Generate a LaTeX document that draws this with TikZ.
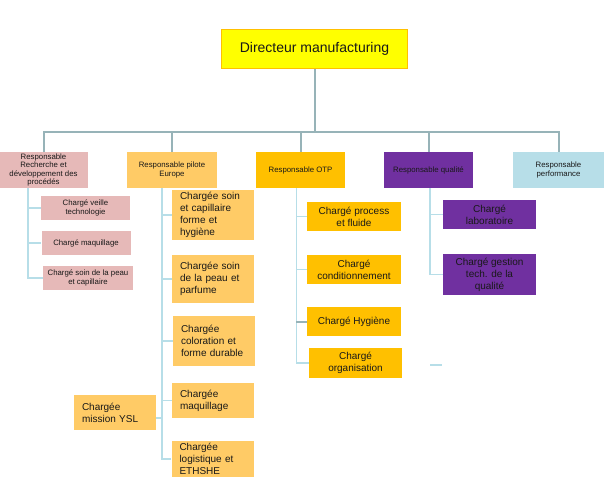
\documentclass[tikz,border=0pt]{standalone}
\usepackage{fontspec}
\setmainfont{Liberation Sans}
\definecolor{dirfill}{HTML}{FFFF00}
\definecolor{dirline}{HTML}{FFC000}
\definecolor{rdfill}{HTML}{E6B9B8}
\definecolor{eufill}{HTML}{FFCB66}
\definecolor{otpfill}{HTML}{FFC000}
\definecolor{qualfill}{HTML}{7030A0}
\definecolor{perffill}{HTML}{B7DEE8}
\definecolor{busline}{HTML}{97B3B8}
\definecolor{subline}{HTML}{B7DEE8}
\tikzset{
  box/.style={inner sep=0pt,align=center,text=black!90},
  headbox/.style={box,minimum width=89pt,minimum height=36pt,font=\fontsize{7.8}{8.5}\selectfont},
  rdbox/.style={box,fill=rdfill,minimum width=89pt,minimum height=24pt,font=\fontsize{7.8}{8.5}\selectfont},
  eubox/.style={box,fill=eufill,align=left,inner xsep=8pt,text width=66pt,font=\fontsize{10}{12}\selectfont},
  otpbox/.style={box,fill=otpfill,minimum width=94pt,minimum height=29pt,font=\fontsize{10}{12}\selectfont},
  qualbox/.style={box,fill=qualfill,minimum width=93pt,font=\fontsize{10}{12}\selectfont},
  bus/.style={draw=busline,line width=2pt},
  sub/.style={draw=subline,line width=1.2pt}
}
\begin{document}
\begin{tikzpicture}[x=1pt,y=-1pt]
  \useasboundingbox (0,0) rectangle (604,489);
  % Head of the chart.
  \node[box,fill=dirfill,draw=dirline,line width=1.5pt,minimum width=186pt,minimum height=39pt,
    font=\fontsize{14}{16}\selectfont] (dir) at (314.5,49) {Directeur manufacturing};
  % First level.
  \node[headbox,fill=rdfill] (rd) at (43.5,170) {Responsable\\Recherche et\\développement des\\procédés};
  \node[headbox,fill=eufill,minimum width=90pt] (eu) at (172,170) {Responsable pilote\\Europe};
  \node[headbox,fill=otpfill] (otp) at (300.5,170) {Responsable OTP};
  \node[headbox,fill=qualfill] (qual) at (428.5,170) {Responsable qualité};
  \node[headbox,fill=perffill,minimum width=91pt] (perf) at (558.5,170) {Responsable\\performance};
  \coordinate (hub) at (314.5,132);
  \draw[bus] (dir.south) -- (hub);
  \foreach \n in {rd,eu,otp,qual,perf}
    \draw[bus] (hub) -| (\n.north);
  % Recherche et developpement.
  \node[rdbox] (rd1) at (85.5,208) {Chargé veille\\technologie};
  \node[rdbox] (rd2) at (86,243) {Chargé maquillage};
  \node[rdbox,minimum width=90pt] (rd3) at (88,278) {Chargé soin de la peau\\et capillaire};
  \foreach \c in {rd1,rd2,rd3}
    \draw[sub] ([xshift=-15.5pt]rd.south) |- (\c.west);
  % Pilote Europe.
  \node[eubox,minimum height=50pt] (eu1) at (213,215) {Chargée soin\\et capillaire\\forme et\\hygiène};
  \node[eubox,minimum height=48pt] (eu2) at (213,279) {Chargée soin\\de la peau et\\parfume};
  \node[eubox,minimum height=50pt] (eu3) at (214,341) {Chargée\\coloration et\\forme durable};
  \node[eubox,minimum height=35pt] (eu4) at (213,400.5) {Chargée\\maquillage};
  \node[eubox,minimum height=36pt] (eu5) at (212.5,459) {Chargée\\logistique et\\ETHSHE};
  \node[eubox,minimum height=35pt] (ysl) at (115,412.5) {Chargée\\mission YSL};
  \coordinate (euline) at ([xshift=-10pt]eu.south);
  \foreach \c in {eu1,eu2,eu3,eu4,eu5}
    \draw[sub] (euline) |- (\c.west);
  \draw[sub] ([yshift=-5.5pt]ysl.east) -- ([yshift=-5.5pt]ysl.east -| euline);
  % OTP.
  \node[otpbox] (otp1) at (354,216.5) {Chargé process\\et fluide};
  \node[otpbox] (otp2) at (354,269.5) {Chargé\\conditionnement};
  \node[otpbox] (otp3) at (354,321.5) {Chargé Hygiène};
  \node[otpbox,minimum width=93pt,minimum height=30pt] (otp4) at (355.5,363) {Chargé\\organisation};
  \foreach \c in {otp1,otp2,otp3,otp4}
    \draw[sub] ([xshift=-4pt]otp.south) |- (\c.west);
  \draw[bus] ([xshift=-10.5pt]otp3.west) -- (otp3.west);
  \coordinate (stub) at (430,365);
  \draw[sub] (stub) -- ++(12,0);
  % Qualite.
  \node[qualbox,minimum height=29pt] (qual1) at (489.5,214.5) {Chargé\\laboratoire};
  \node[qualbox,minimum height=41pt] (qual2) at (489.5,274.5) {Chargé gestion\\tech. de la\\qualité};
  \foreach \c in {qual1,qual2}
    \draw[sub] ([xshift=1.5pt]qual.south) |- (\c.west);
\end{tikzpicture}
\end{document}
